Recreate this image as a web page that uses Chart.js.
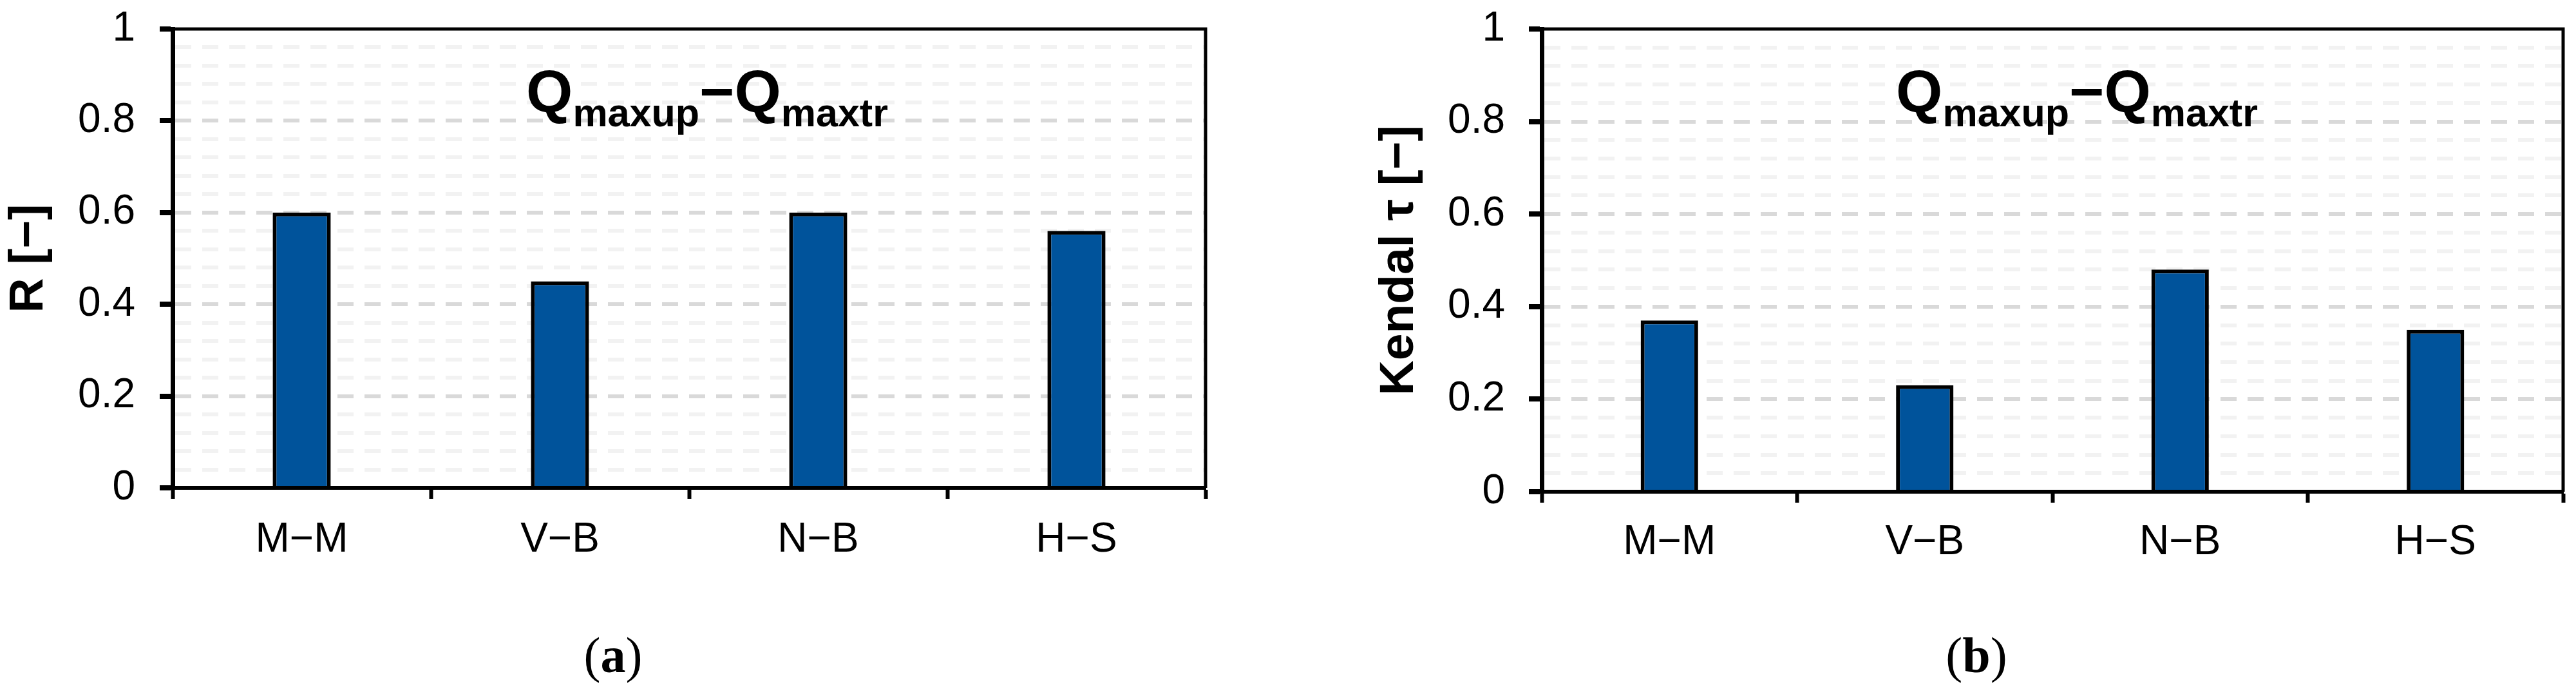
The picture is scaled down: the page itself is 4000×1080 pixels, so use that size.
<!DOCTYPE html>
<html>
<head>
<meta charset="utf-8">
<script src="https://cdn.jsdelivr.net/npm/chart.js@4.4.1/dist/chart.umd.min.js"></script>
<style>
  html, body { margin: 0; padding: 0; background: #fff; }
  body { width: 4000px; height: 1080px; position: relative; overflow: hidden; font-family: "Liberation Sans", Arial, sans-serif; }
  canvas { position: absolute; top: 0; }
  #chartA { left: 0; }
  #chartB { left: 2128px; }
  .ttl { position: absolute; top: 96px; transform: translateX(-50%); font-weight: bold; font-size: 93px; line-height: 93px; white-space: nowrap; color: #000; }
  .ttl .s { font-size: 61px; position: relative; top: 22px; }
  .cap { position: absolute; top: 978px; transform: translateX(-50%); font-family: "Liberation Serif", "Times New Roman", serif; font-size: 78px; line-height: 78px; color: #000; }
</style>
</head>
<body>
<canvas id="chartA" width="1900" height="920"></canvas>
<canvas id="chartB" width="1872" height="920"></canvas>
<div class="ttl" style="left:1098px">Q<span class="s">maxup</span>−Q<span class="s">maxtr</span></div>
<div class="ttl" style="left:3225px">Q<span class="s">maxup</span>−Q<span class="s">maxtr</span></div>
<div class="cap" style="left:952px">(<b>a</b>)</div>
<div class="cap" style="left:3069px">(<b>b</b>)</div>
<script>
// stations and correlation values
const sites = ["M−M", "V−B", "N−B", "H−S"];
const pearsonR = [0.60, 0.45, 0.60, 0.56];
const kendallTau = [0.37, 0.23, 0.48, 0.35];
const majorTicks = [0, 0.2, 0.4, 0.6, 0.8, 1];
const majorLabels = ["0", "0.2", "0.4", "0.6", "0.8", "1"];

const barFill = "#00539b";
const fam = "'Liberation Sans', Arial, sans-serif";
Chart.defaults.font.family = fam;

function majorIdx(v){ return majorTicks.findIndex(m => Math.abs(m - v) < 1e-6); }

function gridColor(v){
  if (Math.abs(v) < 1e-6 || Math.abs(v - 1) < 1e-6) return "rgba(0,0,0,0)";
  return majorIdx(v) >= 0 ? "#d9d9d9" : "#f2f2f2";
}

// top + right edge of the plot box
const frame = {
  id: "frame",
  afterDraw(chart){
    const {ctx, chartArea: a} = chart;
    ctx.save();
    ctx.strokeStyle = "#000";
    ctx.lineWidth = 5;
    ctx.setLineDash([]);
    ctx.beginPath();
    ctx.moveTo(a.left, a.top);
    ctx.lineTo(a.right, a.top);
    ctx.lineTo(a.right, a.bottom);
    ctx.stroke();
    ctx.restore();
  }
};

function makeChart(canvas, values, yTitle, g){
  return new Chart(canvas, {
    type: "bar",
    data: {
      labels: sites,
      datasets: [{
        data: values,
        backgroundColor: barFill,
        borderColor: "#000",
        borderWidth: 6,
        borderSkipped: "start",
        categoryPercentage: 1,
        barPercentage: 0.225
      }]
    },
    options: {
      responsive: false, animation: false, devicePixelRatio: 1,
      layout: { padding: { left: 0, top: 45, right: g.padRight, bottom: 0 } },
      plugins: { legend: { display: false }, tooltip: { enabled: false } },
      scales: {
        x: {
          z: 1,
          grid: { offset: true, drawOnChartArea: false, drawTicks: true, tickLength: 17, tickWidth: 6, tickColor: "#000", tickBorderDash: [] },
          border: { color: "#000", width: 6 },
          ticks: { color: "#000", font: { size: 64 }, padding: g.xPad, maxRotation: 0, autoSkip: false },
          afterFit: s => { s.height = g.xHeight; }
        },
        y: {
          min: 0, max: 1,
          ticks: {
            stepSize: 0.04, maxTicksLimit: 30, autoSkip: false,
            padding: g.yPad, color: "#000", font: { size: 64 },
            callback: v => { const i = majorIdx(v); return i >= 0 ? majorLabels[i] : ""; }
          },
          grid: {
            color: c => gridColor(c.tick.value),
            lineWidth: 6,
            drawTicks: true, tickLength: 20, tickWidth: 8,
            tickColor: c => majorIdx(c.tick.value) >= 0 ? "#000" : "rgba(0,0,0,0)",
            tickBorderDash: []
          },
          border: { color: "#000", width: 7, dash: [25, 17] },
          title: { display: true, text: yTitle, color: "#000", font: { size: 75, weight: "bold" }, padding: 0 },
          // fixed axis width; drop the label overhang so layout padding sets the top
          afterFit: s => { s.width = g.yWidth; s.paddingTop = 0; s.paddingBottom = 0; }
        }
      }
    },
    plugins: [frame]
  });
}

makeChart(document.getElementById("chartA"), pearsonR, "R [−]",
  { padRight: 28, yWidth: 268, yPad: 38, xHeight: 163, xPad: 26 });
makeChart(document.getElementById("chartB"), kendallTau, "Kendal τ [−]",
  { padRight: 20, yWidth: 266, yPad: 37, xHeight: 157, xPad: 24 });
</script>
</body>
</html>
